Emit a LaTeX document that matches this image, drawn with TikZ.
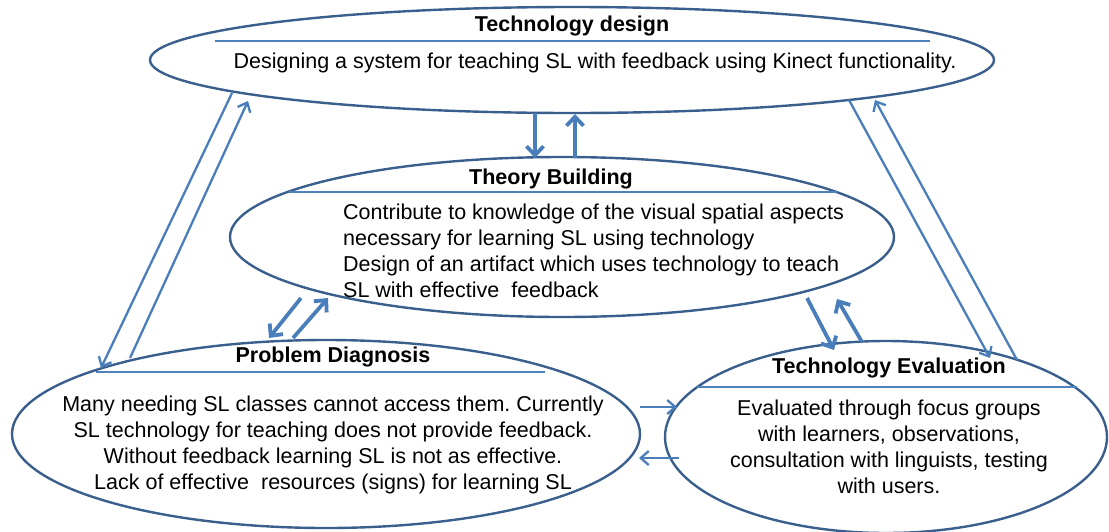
\documentclass[tikz,border=0pt]{standalone}
\usepackage{fontspec}
\setmainfont{Liberation Sans}
\usetikzlibrary{shapes.geometric,arrows.meta}
\definecolor{ellcol}{HTML}{3A5F8D}
\definecolor{arrcol}{HTML}{4A7EBB}
\definecolor{hdrcol}{HTML}{4F81BD}
\tikzset{
  ell/.style={ellipse, draw=ellcol, line width=2.4pt, inner sep=0pt, outer sep=0pt},
  ttl/.style={font=\fontsize{21.5}{26}\selectfont\bfseries, inner sep=0pt},
  body/.style={font=\fontsize{21.5}{26}\selectfont\frenchspacing, inner sep=0pt},
  hdr/.style={draw=hdrcol, line width=1.4pt},
  bigarr/.style={draw=arrcol, line width=3.8pt, -{Straight Barb[length=9pt,width=17pt,line width=3.8pt]}},
  thinarr/.style={draw=arrcol, line width=2.3pt, -{Straight Barb[length=8pt,width=14pt,line width=2.3pt]}}
}
\begin{document}
\begin{tikzpicture}[x=1pt,y=-1pt]
\useasboundingbox (0,0) rectangle (1109,531);
% ellipses
\node[ell, minimum width=844pt, minimum height=106pt] (td) at (572,60) {};
\node[ell, minimum width=664pt, minimum height=160pt] (tb) at (562,237) {};
\node[ell, minimum width=628pt, minimum height=188pt] (pd) at (326,434) {};
\node[ell, minimum width=442pt, minimum height=192pt] (te) at (886,437) {};
% header lines
\coordinate (tdl1) at (215,41); \coordinate (tdl2) at (930,41);
\coordinate (tbl1) at (289,192); \coordinate (tbl2) at (837,192);
\coordinate (pdl1) at (96,372); \coordinate (pdl2) at (545,372);
\coordinate (tel1) at (697,387); \coordinate (tel2) at (1077,387);
\draw[hdr] (tdl1) -- (tdl2);
\draw[hdr] (tbl1) -- (tbl2);
\draw[hdr] (pdl1) -- (pdl2);
\draw[hdr] (tel1) -- (tel2);
% titles
\node[ttl] (tdt) at (572,26) {Technology design};
\node[ttl] (tbt) at (551,179) {Theory Building};
\node[ttl] (pdt) at (333,357) {Problem Diagnosis};
\node[ttl] (tet) at (889,368) {Technology Evaluation};
% bodies
\node[body] (tdb) at (595,63) {Designing a system for teaching SL with feedback using Kinect functionality.};
\node[body, align=left, anchor=west] (tbb) at (343,250.5) {Contribute to knowledge of the visual spatial aspects\\necessary for learning SL using technology\\Design of an artifact which uses technology to teach\\SL with effective\ \ feedback};
\node[body, align=center] (pdb) at (333,444.5) {Many needing SL classes cannot access them. Currently\\SL technology for teaching does not provide feedback.\\Without feedback learning SL is not as effective.\\Lack of effective\ \ resources (signs) for learning SL};
\node[body, align=center] (teb) at (889,446.5) {Evaluated through focus groups\\with learners, observations,\\consultation with linguists, testing\\with users.};
% arrow end points
\coordinate (a1s) at (535,113); \coordinate (a1e) at (535,158);
\coordinate (a2s) at (575,158); \coordinate (a2e) at (575,114);
\coordinate (a3s) at (301,298); \coordinate (a3e) at (269,338);
\coordinate (a4s) at (293,338); \coordinate (a4e) at (328,298);
\coordinate (a5s) at (807,298); \coordinate (a5e) at (834,350);
\coordinate (a6s) at (862,342); \coordinate (a6e) at (837,299);
\coordinate (a7s) at (640,407); \coordinate (a7e) at (677,407);
\coordinate (a8s) at (679,458); \coordinate (a8e) at (639,458);
\coordinate (b1s) at (232,93); \coordinate (b1e) at (101,368);
\coordinate (b2s) at (130,358); \coordinate (b2e) at (248,101);
\coordinate (b3s) at (849,100); \coordinate (b3e) at (990,358);
\coordinate (b4s) at (1017,360); \coordinate (b4e) at (875,100);
\draw[bigarr] (a1s) -- (a1e);
\draw[bigarr] (a2s) -- (a2e);
\draw[bigarr] (a3s) -- (a3e);
\draw[bigarr] (a4s) -- (a4e);
\draw[bigarr] (a5s) -- (a5e);
\draw[bigarr] (a6s) -- (a6e);
\draw[thinarr] (a7s) -- (a7e);
\draw[thinarr] (a8s) -- (a8e);
\draw[thinarr] (b1s) -- (b1e);
\draw[thinarr] (b2s) -- (b2e);
\draw[thinarr] (b3s) -- (b3e);
\draw[thinarr] (b4s) -- (b4e);
\end{tikzpicture}
\end{document}
